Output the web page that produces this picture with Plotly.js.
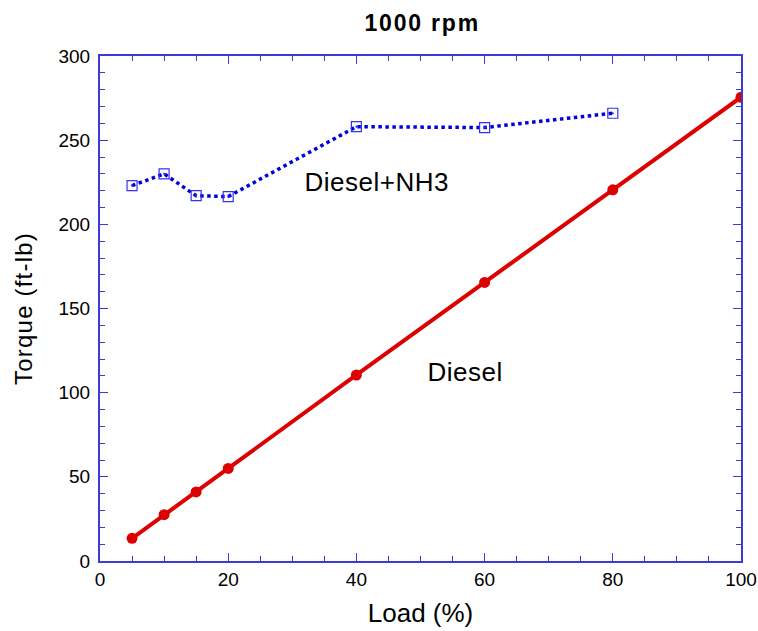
<!DOCTYPE html>
<html>
<head>
<meta charset="utf-8">
<script src="https://cdn.plot.ly/plotly-3.0.1.min.js"></script>
<style>
body{margin:0;background:#fff}
#chart{width:758px;height:631px}
#chart .gtitle{letter-spacing:1.8px}
#chart .ytitle{letter-spacing:1.2px}
#chart .annotation-text{letter-spacing:0.5px}
</style>
</head>
<body>
<div id="chart"></div>
<script>
const loadDiesel = [5, 10, 15, 20, 40, 60, 80, 100];
const torqueDiesel = [13.5, 27.5, 41, 55, 110.5, 165.5, 220.5, 275.5];
const loadNH3 = [5, 10, 15, 20, 40, 60, 80];
const torqueNH3 = [223, 230, 217, 216.5, 258, 257.5, 266];
const labelNames = ['Diesel+NH3', 'Diesel'];
const labelX = [43.2, 57];
const labelY = [225, 112];

const axisColor = '#3a3ade';
const data = [
  {x: loadNH3, y: torqueNH3, type: 'scatter', mode: 'lines+markers',
   line: {color: '#0000dd', width: 3.5, dash: 'dot'},
   marker: {symbol: 'square-dot', size: 10, color: 'rgba(0,0,0,0)', line: {color: '#3333ee', width: 1.2}}},
  {x: loadDiesel, y: torqueDiesel, type: 'scatter', mode: 'lines+markers',
   line: {color: '#dd0000', width: 4},
   marker: {symbol: 'circle', size: 11, color: '#dd0000'}}
];
const font = {family: 'Liberation Sans, Arial, sans-serif', color: '#000'};
const layout = {
  width: 758, height: 631,
  margin: {l: 100, r: 17, t: 56, b: 70},
  paper_bgcolor: '#fff', plot_bgcolor: '#fff',
  showlegend: false,
  font: font,
  title: {text: '<b>1000 rpm</b>', x: 0.557, xanchor: 'center', y: 0.963, yanchor: 'middle', font: {family: font.family, size: 23, color: '#000'}},
  xaxis: {range: [0, 100], dtick: 20, ticks: 'inside', ticklen: 8, tickcolor: axisColor, tickwidth: 1.3,
    showline: true, linecolor: axisColor, linewidth: 2, mirror: 'ticks', showgrid: false, zeroline: false,
    tickfont: {family: font.family, size: 19, color: '#000'},
    minor: {dtick: 5, ticks: 'inside', ticklen: 5, tickcolor: axisColor, tickwidth: 1.2, showgrid: false},
    title: {text: 'Load (%)', font: {family: font.family, size: 26, color: '#000'}, standoff: 15}},
  yaxis: {range: [0, 300], dtick: 50, ticks: 'inside', ticklen: 8, tickcolor: axisColor, tickwidth: 1.3,
    showline: true, linecolor: axisColor, linewidth: 2, mirror: 'ticks', showgrid: false, zeroline: false,
    tickfont: {family: font.family, size: 19, color: '#000'}, ticklabelstandoff: 4,
    minor: {dtick: 10, ticks: 'inside', ticklen: 5, tickcolor: axisColor, tickwidth: 1.2, showgrid: false},
    title: {text: 'Torque (ft-lb)', font: {family: font.family, size: 24, color: '#000'}, standoff: 19}},
  annotations: labelNames.map((t, i) => ({x: labelX[i], y: labelY[i], text: t, showarrow: false,
    font: {family: font.family, size: 26, color: '#000'}, xanchor: 'center', yanchor: 'middle'}))
};
Plotly.newPlot('chart', data, layout, {displayModeBar: false});
</script>
</body>
</html>
